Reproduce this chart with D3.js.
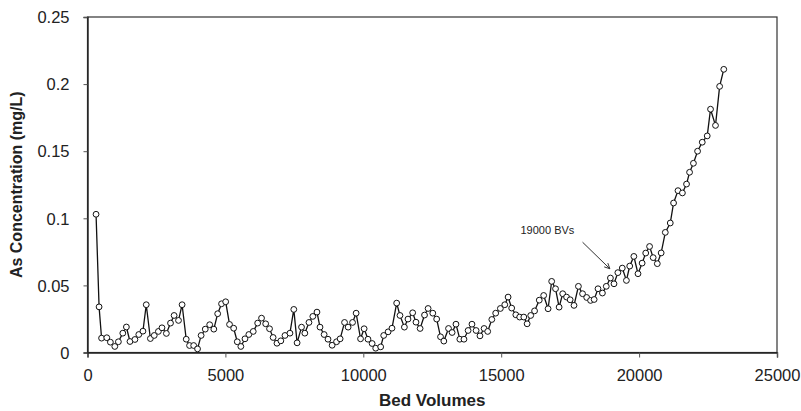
<!DOCTYPE html>
<html><head><meta charset="utf-8">
<script src="https://cdn.jsdelivr.net/npm/d3@7"></script>
<style>
html,body{margin:0;padding:0;background:#fff;}
svg{display:block;font-family:"Liberation Sans",Arial,sans-serif;}
</style></head>
<body><svg id="c" width="801" height="411"></svg>
<script>
const bedVolumes = [310,420,510,700,830,990,1120,1280,1410,1540,1720,1860,2010,2130,2280,2420,2570,2700,2860,3010,3140,3300,3430,3580,3700,3850,3990,4120,4270,4430,4580,4720,4860,5010,5150,5300,5430,5560,5710,5850,6010,6170,6310,6460,6600,6730,6870,7010,7160,7340,7480,7600,7760,7880,8030,8170,8320,8430,8580,8720,8870,9030,9160,9320,9450,9610,9740,9900,10030,10170,10320,10450,10630,10740,10900,11040,11210,11330,11490,11620,11790,11910,12060,12220,12350,12520,12660,12800,12920,13090,13220,13360,13500,13650,13800,13940,14090,14230,14380,14510,14660,14800,14970,15130,15250,15380,15530,15670,15820,15940,16070,16210,16380,16540,16700,16830,16970,17100,17230,17370,17500,17640,17800,17950,18100,18240,18370,18510,18670,18810,18960,19090,19230,19390,19540,19660,19810,19960,20110,20240,20380,20510,20660,20800,20950,21130,21250,21410,21570,21720,21830,21970,22120,22290,22470,22590,22770,22920,23070];
const asConc = [0.103,0.034,0.0107,0.011,0.0077,0.0045,0.008,0.0144,0.019,0.0082,0.0097,0.0134,0.0159,0.0356,0.0104,0.0127,0.0157,0.0184,0.0142,0.0219,0.0276,0.0239,0.0356,0.0099,0.0052,0.0052,0.0027,0.0127,0.0174,0.0207,0.0174,0.0289,0.0363,0.0378,0.0209,0.0181,0.008,0.0045,0.0102,0.0134,0.0157,0.0219,0.0256,0.0214,0.0177,0.0112,0.0069,0.0087,0.0127,0.0144,0.0321,0.0072,0.0189,0.0144,0.0224,0.0269,0.0301,0.0189,0.0134,0.0099,0.0054,0.008,0.0102,0.0224,0.0189,0.0224,0.0293,0.0102,0.0177,0.0099,0.0067,0.0032,0.0042,0.0127,0.0154,0.0181,0.0368,0.0276,0.0189,0.0249,0.0296,0.0226,0.0179,0.0279,0.0328,0.0293,0.0249,0.0117,0.0085,0.0179,0.0149,0.0211,0.0099,0.0099,0.0164,0.0211,0.0164,0.0124,0.0179,0.0157,0.0246,0.0293,0.0328,0.0356,0.0413,0.0331,0.0281,0.0264,0.0264,0.0214,0.0276,0.031,0.039,0.0425,0.0326,0.053,0.0475,0.0338,0.0438,0.0413,0.0393,0.0351,0.0493,0.0438,0.041,0.0388,0.0395,0.0475,0.0443,0.0493,0.0555,0.0512,0.0595,0.0629,0.0537,0.0644,0.0716,0.0587,0.0666,0.0741,0.079,0.0707,0.0662,0.0742,0.0895,0.0965,0.1114,0.1206,0.1189,0.1255,0.1343,0.141,0.15,0.1567,0.1614,0.1813,0.1692,0.1983,0.211];
const xTicks = [0,5000,10000,15000,20000,25000];
const yTicks = [0,0.05,0.1,0.15,0.2,0.25];
const yTickLabels = ["0","0.05","0.1","0.15","0.2","0.25"];
const xTitle = "Bed Volumes";
const yTitle = "As Concentration (mg/L)";
const annotationText = "19000 BVs";

const data = bedVolumes.map((v,i)=>({x:v,y:asConc[i]}));
const svg = d3.select("#c");
const L=87.5, R=777, T=17, B=352.5;
const x = d3.scaleLinear().domain([0,25000]).range([L,R]);
const y = d3.scaleLinear().domain([0,0.25]).range([B,T]);

svg.append("rect").attr("x",L).attr("y",T).attr("width",R-L).attr("height",B-T)
  .attr("fill","none").attr("stroke","#333").attr("stroke-width",1.2);

const xAxis = svg.append("g").attr("transform",`translate(0,${B})`)
  .call(d3.axisBottom(x).tickValues(xTicks).tickFormat(d3.format("d")).tickSize(5).tickPadding(12));
const yAxis = svg.append("g").attr("transform",`translate(${L},0)`)
  .call(d3.axisLeft(y).tickValues(yTicks).tickFormat((d,i)=>yTickLabels[i]).tickSize(4).tickPadding(14));
[xAxis,yAxis].forEach(g=>{
  g.select(".domain").attr("stroke","#222").attr("stroke-width",1.4);
  g.selectAll(".tick line").attr("stroke","#555");
  g.selectAll("text").attr("font-size",16.5).attr("fill","#222").attr("font-family","'Liberation Sans',Arial,sans-serif");
});
yAxis.selectAll("text").attr("dy","0.35em");

svg.append("text").attr("x",(L+R)/2).attr("y",406).attr("text-anchor","middle")
  .attr("font-size",17).attr("font-weight","bold").attr("fill","#222").text(xTitle);
svg.append("text").attr("transform",`translate(22,${(T+B)/2}) rotate(-90)`).attr("text-anchor","middle")
  .attr("font-size",16).attr("font-weight","bold").attr("fill","#222").text(yTitle);

svg.append("path").datum(data)
  .attr("d",d3.line().x(d=>x(d.x)).y(d=>y(d.y)))
  .attr("fill","none").attr("stroke","#111").attr("stroke-width",1.3);
svg.append("g").selectAll("circle").data(data).join("circle")
  .attr("cx",d=>x(d.x)).attr("cy",d=>y(d.y)).attr("r",2.9)
  .attr("fill","#fff").attr("stroke","#111").attr("stroke-width",1);

svg.append("text").attr("x",x(15700)).attr("y",y(0.0885)).attr("font-size",11)
  .attr("fill","#222").text(annotationText);
const ax1=x(17950), ay1=y(0.0822), ax2=x(18940), ay2=y(0.0624);
svg.append("line").attr("x1",ax1).attr("y1",ay1).attr("x2",ax2).attr("y2",ay2)
  .attr("stroke","#333").attr("stroke-width",1);
const ang=Math.atan2(ay2-ay1,ax2-ax1), hl=6;
[0.45,-0.45].forEach(a=>{
  svg.append("line").attr("x1",ax2).attr("y1",ay2)
    .attr("x2",ax2-hl*Math.cos(ang+a)).attr("y2",ay2-hl*Math.sin(ang+a))
    .attr("stroke","#333").attr("stroke-width",1);
});
</script></body></html>
